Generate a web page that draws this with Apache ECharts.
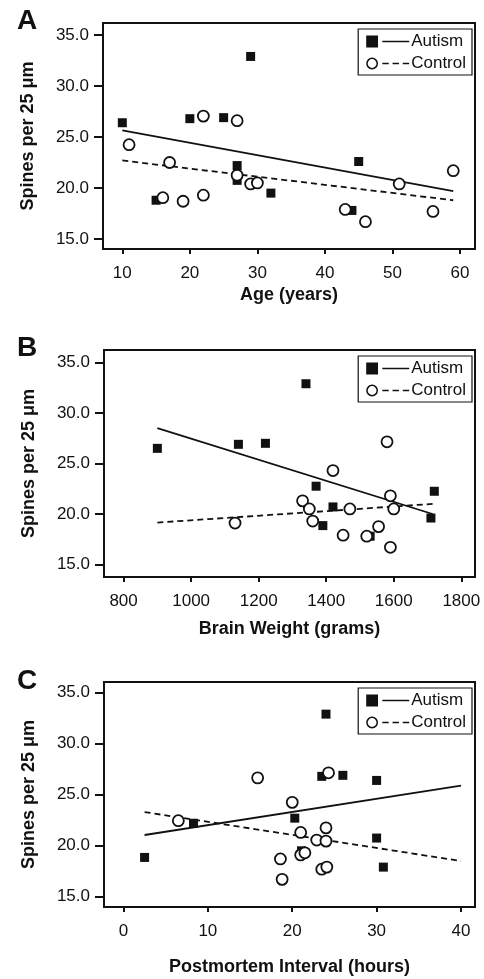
<!DOCTYPE html>
<html>
<head>
<meta charset="utf-8">
<script src="https://cdn.jsdelivr.net/npm/echarts@6/dist/echarts.min.js"></script>
<style>
  html, body { margin: 0; padding: 0; background: #fff; }
  #chart { width: 484px; height: 979px; }
</style>
</head>
<body>
<div id="chart"></div>
<script>
// tick labels
const spineTicks = [15, 20, 25, 30, 35]
const ageTicks = [10, 20, 30, 40, 50, 60]
const weightTicks = [800, 1000, 1200, 1400, 1600, 1800]
const pmiTicks = [0, 10, 20, 30, 40]

// A: age
const ageAutismX = [10, 20, 25, 29, 27, 27, 15, 32, 45, 44]
const ageAutismY = [26.4, 26.8, 26.9, 32.9, 22.2, 20.75, 18.8, 19.5, 22.6, 17.8]
const ageControlX = [11, 17, 16, 19, 22, 22, 27, 27, 29, 30, 43, 46, 51, 56, 59]
const ageControlY = [24.25, 22.5, 19.05, 18.7, 19.3, 27.05, 26.6, 21.25, 20.4, 20.5, 17.9, 16.7, 20.4, 17.7, 21.7]
const ageAutismFit = [[10, 25.65], [59, 19.7]]
const ageControlFit = [[10, 22.7], [59, 18.8]]

// B: brain weight
const weightAutismX = [900, 1140, 1220, 1340, 1370, 1420, 1390, 1720, 1710, 1530]
const weightAutismY = [26.5, 26.9, 27.0, 32.9, 22.75, 20.7, 18.85, 22.25, 19.6, 17.8]
const weightControlX = [1130, 1330, 1350, 1360, 1420, 1450, 1470, 1520, 1555, 1580, 1590, 1600, 1590]
const weightControlY = [19.1, 21.3, 20.5, 19.3, 24.3, 17.9, 20.5, 17.8, 18.75, 27.15, 21.8, 20.5, 16.7]
const weightAutismFit = [[900, 28.5], [1715, 20.0]]
const weightControlFit = [[900, 19.15], [1715, 21.0]]

// C: postmortem interval
const pmiAutismX = [2.5, 8.3, 20.3, 21.1, 23.5, 24.0, 26.0, 30.0, 30.0, 30.8]
const pmiAutismY = [18.85, 22.2, 22.7, 19.5, 26.8, 32.9, 26.9, 26.4, 20.75, 17.9]
const pmiControlX = [6.5, 15.9, 20.0, 18.6, 18.8, 21.0, 21.0, 21.5, 22.9, 24.0, 24.0, 24.3, 23.5, 24.1]
const pmiControlY = [22.45, 26.65, 24.25, 18.7, 16.7, 21.3, 19.1, 19.3, 20.55, 21.75, 20.45, 27.15, 17.7, 17.9]
const pmiAutismFit = [[2.5, 21.05], [40, 25.9]]
const pmiControlFit = [[2.5, 23.3], [40, 18.5]]

const FONT = '"Liberation Sans", Arial, Helvetica, sans-serif'
const INK = '#111'

const zip = (xs, ys) => xs.map((x, i) => [x, ys[i]])

// legend icons: marker + line sample
const autismIcon = 'path://M0,0.5H11V11.5H0Z M15,5.3H40V6.7H15Z'
const controlIcon = 'path://M0,6A5.5,5.5 0 1,0 11,6A5.5,5.5 0 1,0 0,6Z M1.4,6A4.1,4.1 0 1,1 9.6,6A4.1,4.1 0 1,1 1.4,6Z ' +
  'M15,5.3H21V6.7H15Z M24.5,5.3H30.5V6.7H24.5Z M34,5.3H40V6.7H34Z'

const panels = [
  { letter: 'A', grid: { left: 103, top: 23, width: 372, height: 226 }, x: [7.14, 62.22], y: [14.02, 36.18],
    xTicks: ageTicks, xName: 'Age (years)', xGap: 37, auto: [ageAutismX, ageAutismY], ctrl: [ageControlX, ageControlY],
    autoFit: ageAutismFit, ctrlFit: ageControlFit, letterTop: 2 },
  { letter: 'B', grid: { left: 104, top: 350, width: 371, height: 227 }, x: [742, 1840.5], y: [13.76, 36.24],
    xTicks: weightTicks, xName: 'Brain Weight (grams)', xGap: 43, auto: [weightAutismX, weightAutismY], ctrl: [weightControlX, weightControlY],
    autoFit: weightAutismFit, ctrlFit: weightControlFit, letterTop: 329 },
  { letter: 'C', grid: { left: 104, top: 682, width: 371, height: 225 }, x: [-2.31, 41.66], y: [13.99, 36.05],
    xTicks: pmiTicks, xName: 'Postmortem Interval (hours)', xGap: 51, auto: [pmiAutismX, pmiAutismY], ctrl: [pmiControlX, pmiControlY],
    autoFit: pmiAutismFit, ctrlFit: pmiControlFit, letterTop: 662 }
]

const option = {
  animation: false,
  backgroundColor: '#fff',
  textStyle: { fontFamily: FONT, color: INK },
  title: [],
  legend: [],
  grid: [],
  xAxis: [],
  yAxis: [],
  series: []
}

panels.forEach((p, i) => {
  option.title.push({
    text: p.letter, left: 12, top: p.letterTop,
    textStyle: { fontFamily: FONT, fontSize: 28, fontWeight: 'bold', color: INK }
  })

  option.grid.push(Object.assign({ show: true, borderColor: INK, borderWidth: 2, backgroundColor: 'transparent' }, p.grid))

  option.xAxis.push({
    type: 'value', gridIndex: i, min: p.x[0], max: p.x[1],
    name: p.xName, nameLocation: 'middle', nameGap: p.xGap,
    nameTextStyle: { fontFamily: FONT, fontSize: 18, fontWeight: 'bold', color: INK },
    axisLine: { show: false, onZero: false },
    axisTick: { show: true, customValues: p.xTicks, length: 5, lineStyle: { color: INK, width: 2 } },
    axisLabel: { customValues: p.xTicks, margin: 16, fontSize: 17, color: INK, fontFamily: FONT,
      formatter: v => String(v) },
    splitLine: { show: false }
  })

  option.yAxis.push({
    type: 'value', gridIndex: i, min: p.y[0], max: p.y[1],
    name: 'Spines per 25 μm', nameLocation: 'middle', nameRotate: 90, nameGap: 66,
    nameTextStyle: { fontFamily: FONT, fontSize: 18, fontWeight: 'bold', color: INK },
    axisLine: { show: false, onZero: false },
    axisTick: { show: true, customValues: spineTicks, length: 9, lineStyle: { color: INK, width: 2 } },
    axisLabel: { customValues: spineTicks, margin: 14, fontSize: 17, color: INK, fontFamily: FONT,
      formatter: v => v.toFixed(1) },
    splitLine: { show: false }
  })

  option.legend.push({
    orient: 'vertical', right: 12, top: p.grid.top + 6,
    backgroundColor: '#fff', borderColor: INK, borderWidth: 1.2,
    padding: [4, 6, 3, 8], itemGap: 5, itemWidth: 43, itemHeight: 12,
    textStyle: { fontFamily: FONT, fontSize: 17, color: INK, padding: [0, 0, 0, -3] },
    selectedMode: false,
    data: [
      { name: 'Autism', icon: autismIcon, itemStyle: { color: INK, borderWidth: 0 } },
      { name: 'Control', icon: controlIcon, itemStyle: { color: INK, borderWidth: 0 } }
    ]
  })

  option.series.push(
    {
      name: 'Autism', type: 'scatter', xAxisIndex: i, yAxisIndex: i,
      symbol: 'rect', symbolSize: 9,
      itemStyle: { color: INK, opacity: 1 },
      data: zip(p.auto[0], p.auto[1]), z: 3
    },
    {
      name: 'Autism fit', type: 'line', xAxisIndex: i, yAxisIndex: i,
      showSymbol: false, symbol: 'none',
      lineStyle: { color: INK, width: 1.8, type: 'solid' },
      data: p.autoFit, z: 2
    },
    {
      name: 'Control fit', type: 'line', xAxisIndex: i, yAxisIndex: i,
      showSymbol: false, symbol: 'none',
      lineStyle: { color: INK, width: 1.8, type: [6, 4] },
      data: p.ctrlFit, z: 2
    },
    {
      name: 'Control', type: 'scatter', xAxisIndex: i, yAxisIndex: i,
      symbol: 'circle', symbolSize: 11,
      itemStyle: { color: '#fff', borderColor: INK, borderWidth: 1.8, opacity: 1 },
      data: zip(p.ctrl[0], p.ctrl[1]), z: 4
    }
  )
})

const chart = echarts.init(document.getElementById('chart'), null, { renderer: 'canvas' })
chart.setOption(option)
</script>
</body>
</html>
